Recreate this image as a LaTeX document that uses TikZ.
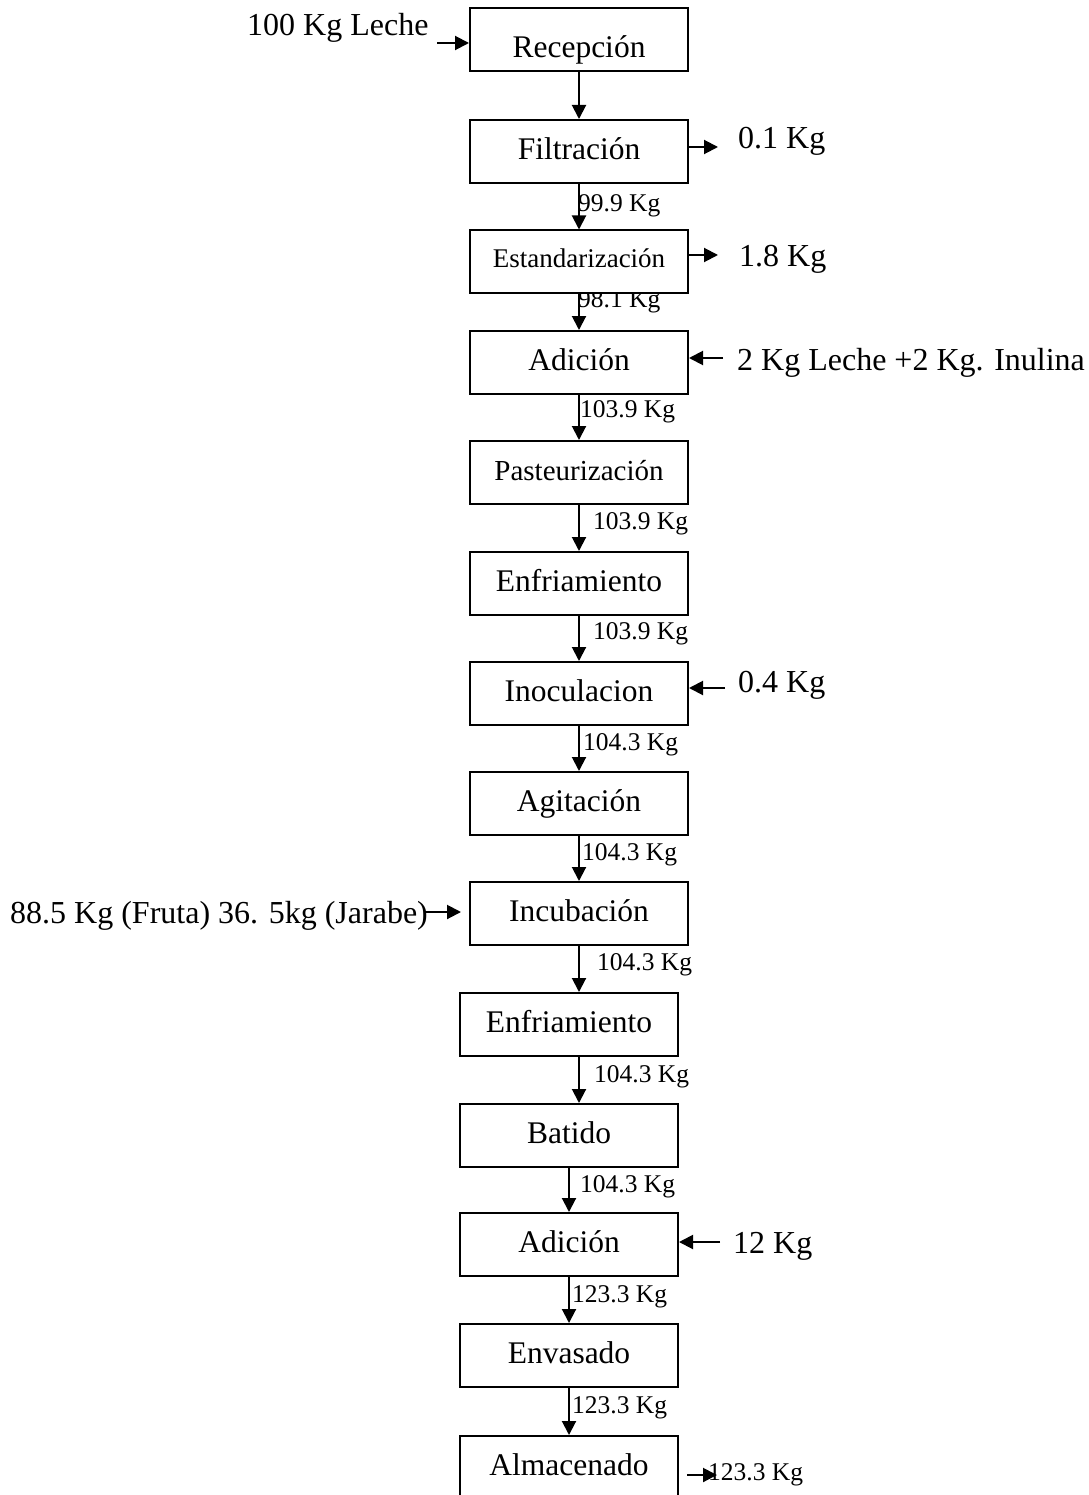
\documentclass[tikz,border=0pt]{standalone}
\usepackage{fontspec}
\setmainfont{Liberation Serif}
\usetikzlibrary{arrows.meta}
\tikzset{
  paso/.style={draw, line width=2pt, fill=white, minimum width=218pt, minimum height=63pt,
    inner sep=2pt, text height=22pt, text depth=6pt, font=\fontsize{31.5}{36}\selectfont},
  flujo/.style={anchor=base west, inner sep=0pt, font=\fontsize{25.5}{30}\selectfont},
  entrada/.style={anchor=base west, inner sep=0pt, font=\fontsize{32}{38}\selectfont},
  flecha/.style={line width=2pt, -{Triangle[length=14pt,width=14pt]}}
}
\begin{document}
\begin{tikzpicture}[x=1pt,y=-1pt]
\useasboundingbox (0,0) rectangle (1088,1495);
% cantidades entre etapas
\node[flujo] (m1) at (578,212) {99.9 Kg};
\node[flujo] (m2) at (578,308) {98.1 Kg};
\node[flujo] (m3) at (580,417) {103.9 Kg};
\node[flujo] (m4) at (593,529) {103.9 Kg};
\node[flujo] (m5) at (593,639) {103.9 Kg};
\node[flujo] (m6) at (583,750) {104.3 Kg};
\node[flujo] (m7) at (582,860) {104.3 Kg};
\node[flujo] (m8) at (597,970) {104.3 Kg};
\node[flujo] (m9) at (594,1082) {104.3 Kg};
\node[flujo] (m10) at (580,1192) {104.3 Kg};
\node[flujo] (m11) at (572,1302) {123.3 Kg};
\node[flujo] (m12) at (572,1413) {123.3 Kg};
\node[flujo] (salida) at (708,1480) {123.3 Kg};
% entradas y salidas laterales
\node[entrada] (leche) at (247,36) {100 Kg Leche};
\node[entrada] (perdida1) at (738,149) {0.1 Kg};
\node[entrada] (perdida2) at (739,267) {1.8 Kg};
\node[entrada] (inulina) at (737,370) {2 Kg Leche +2 Kg. Inulina};
\node[entrada] (cultivo) at (738,692) {0.4 Kg};
\node[entrada] (fruta) at (10,923) {88.5 Kg (Fruta) 36. 5kg (Jarabe)};
\node[entrada] (azucar) at (733,1253) {12 Kg};
% etapas
\node[paso, text height=38pt, text depth=2pt] (recep) at (579,39.5) {Recepción};
\node[paso] (filt) at (579,151.5) {Filtración};
\node[paso, font=\fontsize{27}{32}\selectfont, text depth=10pt] (estand) at (579,262) {Estandarización};
\node[paso] (adic) at (579,362.5) {Adición};
\node[paso, font=\fontsize{29}{34}\selectfont] (past) at (579,472.5) {Pasteurización};
\node[paso] (enf) at (579,583.5) {Enfriamiento};
\node[paso] (inoc) at (579,693.5) {Inoculacion};
\node[paso] (agit) at (579,803.5) {Agitación};
\node[paso] (incub) at (579,913.5) {Incubación};
\node[paso] (enfb) at (569,1024.5) {Enfriamiento};
\node[paso] (batido) at (569,1135.5) {Batido};
\node[paso] (adicb) at (569,1244.5) {Adición};
\node[paso] (envas) at (569,1355.5) {Envasado};
\node[paso] (almac) at (569,1467.5) {Almacenado};
% flechas del proceso
\foreach \a/\b in {recep/filt, filt/estand, estand/adic, adic/past, past/enf, enf/inoc,
    inoc/agit, agit/incub, batido/adicb, adicb/envas, envas/almac}
  \draw[flecha] (\a.south) -- (\b.north);
\draw[flecha] (incub.south) -- (incub.south |- enfb.north);
\draw[flecha] (incub.south |- enfb.south) -- (incub.south |- batido.north);
% flechas laterales
\coordinate (c-leche) at (437,43);
\coordinate (c-filt) at (718,147);
\coordinate (c-est) at (718,255);
\coordinate (c-adic) at (723,358);
\coordinate (c-inoc) at (725,688);
\coordinate (c-fruta) at (425,912);
\coordinate (c-fruta2) at (461,912);
\coordinate (c-adicb) at (720,1242);
\coordinate (c-alm) at (687,1475);
\coordinate (c-alm2) at (717,1475);
\draw[flecha] (c-leche) -- (c-leche -| recep.west);
\draw[flecha] (c-filt -| filt.east) -- (c-filt);
\draw[flecha] (c-est -| estand.east) -- (c-est);
\draw[flecha] (c-adic) -- (c-adic -| adic.east);
\draw[flecha] (c-inoc) -- (c-inoc -| inoc.east);
\draw[flecha] (c-fruta) -- (c-fruta2);
\draw[flecha] (c-adicb) -- (c-adicb -| adicb.east);
\draw[flecha] (c-alm) -- (c-alm2);
\end{tikzpicture}
\end{document}
